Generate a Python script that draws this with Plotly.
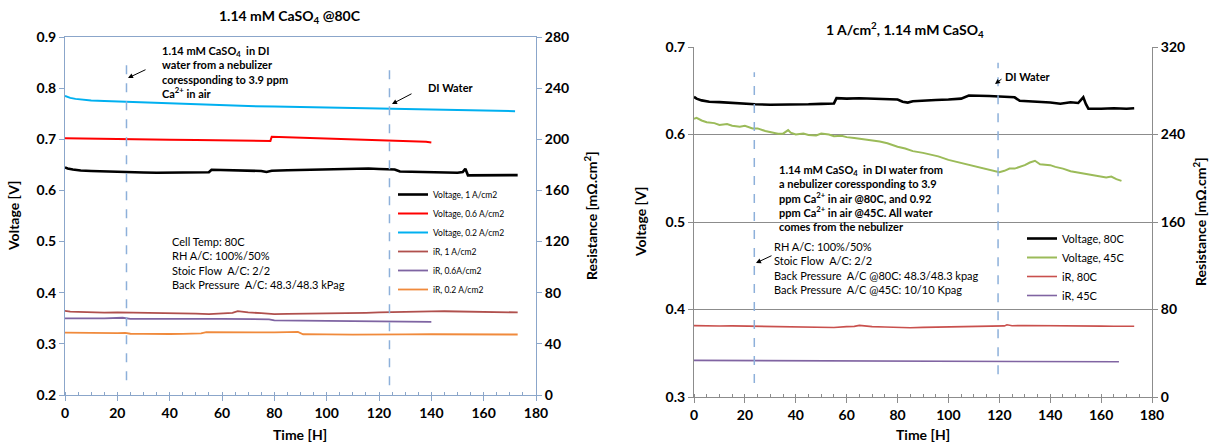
import plotly.graph_objects as go

# ---------------- DATA : left chart (1.14 mM CaSO4 @80C) ----------------
t_v1 = [0, 1, 3, 6, 10, 15, 20, 25, 30, 35, 40, 45, 50, 55, 56, 60, 65, 70, 75, 77, 79, 85, 90, 95, 100,
        105, 108, 112, 116, 120, 124, 126, 128, 132, 136, 140, 144, 147, 150, 152, 153, 154, 156, 160, 165, 170, 173]
v_v1 = [0.645, 0.643, 0.641, 0.639, 0.638, 0.637, 0.636, 0.635, 0.635, 0.6345, 0.6345, 0.635, 0.635, 0.6355, 0.6405,
        0.640, 0.6405, 0.640, 0.638, 0.636, 0.6385, 0.6395, 0.640, 0.6405, 0.641, 0.642, 0.643, 0.6425, 0.643, 0.642,
        0.642, 0.641, 0.637, 0.6365, 0.636, 0.636, 0.635, 0.6355, 0.6345, 0.636, 0.6425, 0.6295, 0.6295, 0.630,
        0.6295, 0.630, 0.630]

t_v06 = [0, 10, 20, 30, 40, 50, 60, 70, 77, 78.5, 79, 85, 90, 100, 110, 120, 124, 130, 135, 138, 140]
v_v06 = [0.702, 0.701, 0.700, 0.700, 0.699, 0.6985, 0.698, 0.697, 0.6965, 0.6968, 0.705, 0.704, 0.703, 0.7015,
         0.700, 0.698, 0.697, 0.6965, 0.6955, 0.695, 0.6935]

t_v02 = [0, 1, 2, 4, 7, 10, 15, 20, 24, 30, 40, 50, 60, 70, 80, 90, 100, 110, 120, 124, 130, 140, 150, 160, 172]
v_v02 = [0.785, 0.783, 0.781, 0.779, 0.777, 0.776, 0.775, 0.774, 0.773, 0.772, 0.770, 0.768, 0.766, 0.765, 0.764,
         0.763, 0.762, 0.761, 0.760, 0.760, 0.759, 0.758, 0.757, 0.756, 0.755]

t_ir1 = [0, 2, 5, 10, 15, 20, 25, 30, 35, 40, 45, 50, 55, 60, 64, 66, 70, 75, 80, 85, 90, 95, 100, 105, 110,
         115, 120, 125, 130, 135, 140, 145, 150, 155, 160, 165, 170, 173]
r_ir1 = [65.8, 65.2, 65.0, 64.6, 64.4, 64.6, 64.5, 64.3, 64.0, 63.9, 63.8, 63.6, 63.3, 63.9, 64.2, 65.6, 64.6, 64.0,
         63.2, 63.5, 63.6, 63.5, 63.8, 63.9, 64.0, 64.3, 64.6, 64.9, 65.2, 65.3, 65.4, 65.5, 65.3, 65.0, 64.8, 64.9,
         64.7, 64.6]

t_ir06 = [0, 5, 10, 15, 20, 22, 25, 30, 40, 50, 60, 70, 75, 78, 80, 85, 90, 95, 100, 105, 110, 115, 118, 120,
          125, 130, 135, 140]
r_ir06 = [60.0, 59.8, 59.9, 60.0, 60.2, 60.4, 59.6, 59.5, 59.4, 59.6, 59.5, 59.4, 59.3, 59.2, 58.4, 58.3, 58.2,
          58.3, 58.0, 58.1, 58.0, 57.9, 57.3, 57.3, 57.5, 57.4, 57.3, 57.2]

t_ir02 = [0, 5, 10, 15, 20, 23, 25, 30, 35, 40, 45, 50, 52, 54, 60, 65, 70, 75, 80, 85, 89, 91, 95, 100, 110,
          120, 130, 140, 150, 160, 165, 170, 173]
r_ir02 = [48.8, 48.6, 48.5, 48.6, 48.4, 48.6, 47.9, 47.8, 47.6, 47.7, 47.8, 48.0, 48.2, 49.1, 49.0, 49.2, 49.0,
          49.1, 49.0, 49.2, 49.3, 47.5, 47.3, 47.4, 47.2, 47.5, 47.4, 47.5, 47.3, 47.2, 47.4, 47.3, 47.3]

left_events = [23.5, 124]          # switch times (h)
left_event_span = [(0.229, 0.845), (0.219, 0.839)]

# ---------------- DATA : right chart (1 A/cm2, 1.14 mM CaSO4) ----------------
t_v80 = [0, 1, 3, 6, 10, 15, 20, 24, 30, 35, 40, 45, 50, 55, 56, 60, 65, 70, 75, 80, 82, 84, 86, 90, 95, 100,
         105, 108, 112, 116, 120, 124, 126, 128, 132, 136, 140, 144, 148, 151, 152.5, 153, 154, 155, 160, 165,
         170, 173]
v_v80 = [0.643, 0.641, 0.639, 0.6375, 0.637, 0.636, 0.635, 0.6345, 0.634, 0.634, 0.6342, 0.6345, 0.635, 0.6355,
         0.6415, 0.641, 0.6415, 0.641, 0.6405, 0.640, 0.6375, 0.6365, 0.638, 0.639, 0.6395, 0.640, 0.641, 0.6445,
         0.6445, 0.644, 0.6435, 0.643, 0.6425, 0.6385, 0.638, 0.6375, 0.6365, 0.6352, 0.6368, 0.636, 0.641,
         0.6425, 0.635, 0.6295, 0.6295, 0.630, 0.6295, 0.630]

t_v45 = [0, 1, 3, 5, 8, 10, 13, 15, 18, 20, 23, 25, 28, 30, 33, 35, 37, 38, 40, 43, 45, 48, 50, 53, 55, 58,
         60, 63, 66, 70, 73, 76, 80, 83, 86, 90, 93, 96, 100, 103, 106, 110, 113, 116, 118, 120, 122, 124, 126,
         128, 130, 132, 134, 136, 138, 140, 142, 145, 148, 150, 153, 156, 158, 160, 162, 164, 166, 168]
v_v45 = [0.618, 0.619, 0.616, 0.614, 0.613, 0.611, 0.612, 0.610, 0.609, 0.610, 0.607, 0.607, 0.604, 0.603,
         0.601, 0.601, 0.605, 0.602, 0.600, 0.601, 0.5995, 0.599, 0.601, 0.600, 0.598, 0.5985, 0.597, 0.596,
         0.595, 0.593, 0.592, 0.590, 0.586, 0.584, 0.581, 0.579, 0.577, 0.575, 0.571, 0.569, 0.567, 0.564,
         0.562, 0.560, 0.559, 0.557, 0.5585, 0.561, 0.561, 0.563, 0.565, 0.568, 0.570, 0.566, 0.5655, 0.565,
         0.563, 0.561, 0.558, 0.557, 0.556, 0.554, 0.553, 0.552, 0.551, 0.552, 0.549, 0.547]

t_ir80 = [0, 3, 5, 10, 15, 20, 25, 30, 35, 40, 45, 50, 55, 60, 63, 65, 68, 70, 75, 80, 85, 90, 95, 100, 105,
          110, 115, 120, 122, 123, 125, 130, 135, 140, 145, 150, 155, 160, 165, 170, 173]
r_ir80 = [65.3, 65.0, 65.3, 64.9, 65.0, 64.8, 65.0, 64.7, 64.3, 64.2, 64.0, 63.8, 63.6, 64.3, 64.6, 65.5, 64.6,
          64.3, 64.0, 63.5, 63.3, 63.7, 63.9, 64.1, 64.2, 64.4, 64.6, 64.8, 65.0, 66.0, 65.2, 65.4, 65.4, 65.3,
          65.0, 65.2, 64.9, 64.8, 64.7, 64.6, 64.7]

t_ir45 = [0, 10, 20, 40, 60, 80, 100, 110, 111, 120, 140, 160, 167]
r_ir45 = [33.5, 33.4, 33.2, 33.0, 32.9, 32.8, 32.6, 32.6, 32.3, 32.4, 32.3, 32.2, 32.2]

right_events = [23.7, 119.5]
right_event_span = [(0.316, 0.671), (0.326, 0.682)]

x_ticks = [0, 20, 40, 60, 80, 100, 120, 140, 160, 180]

for a, b in [(t_v1, v_v1), (t_v06, v_v06), (t_v02, v_v02), (t_ir1, r_ir1), (t_ir06, r_ir06), (t_ir02, r_ir02),
             (t_v80, v_v80), (t_v45, v_v45), (t_ir80, r_ir80), (t_ir45, r_ir45)]:
    assert len(a) == len(b), (len(a), len(b))

# ---------------- FIGURE ----------------
W, H = 1209, 443
FONT = "Lato"
BLUE_AX = "#8BA6CA"
GRAY_AX = "#8C8C8C"
EVT = "#8DB0DA"


def px(x):
    return x / W


def py(y):
    return 1 - y / H


fig = go.Figure()

# left chart traces
fig.add_trace(go.Scatter(x=t_v1, y=v_v1, name="Voltage, 1 A/cm2", mode="lines",
                         line=dict(color="#000000", width=2.6), xaxis="x", yaxis="y", legend="legend"))
fig.add_trace(go.Scatter(x=t_v06, y=v_v06, name="Voltage, 0.6 A/cm2", mode="lines",
                         line=dict(color="#FF0000", width=2), xaxis="x", yaxis="y", legend="legend"))
fig.add_trace(go.Scatter(x=t_v02, y=v_v02, name="Voltage, 0.2 A/cm2", mode="lines",
                         line=dict(color="#00B0F0", width=2), xaxis="x", yaxis="y", legend="legend"))
fig.add_trace(go.Scatter(x=t_ir1, y=r_ir1, name="iR, 1 A/cm2", mode="lines",
                         line=dict(color="#B0504D", width=1.8), xaxis="x", yaxis="y2", legend="legend"))
fig.add_trace(go.Scatter(x=t_ir06, y=r_ir06, name="iR, 0.6A/cm2", mode="lines",
                         line=dict(color="#7E64A2", width=1.8), xaxis="x", yaxis="y2", legend="legend"))
fig.add_trace(go.Scatter(x=t_ir02, y=r_ir02, name="iR, 0.2 A/cm2", mode="lines",
                         line=dict(color="#F08A3C", width=1.8), xaxis="x", yaxis="y2", legend="legend"))

# right chart traces
fig.add_trace(go.Scatter(x=t_v80, y=v_v80, name="Voltage, 80C", mode="lines",
                         line=dict(color="#000000", width=2.6), xaxis="x3", yaxis="y3", legend="legend2"))
fig.add_trace(go.Scatter(x=t_v45, y=v_v45, name="Voltage, 45C", mode="lines",
                         line=dict(color="#9BBB59", width=2), xaxis="x3", yaxis="y3", legend="legend2"))
fig.add_trace(go.Scatter(x=t_ir80, y=r_ir80, name="iR, 80C", mode="lines",
                         line=dict(color="#C9504D", width=1.6), xaxis="x3", yaxis="y4", legend="legend2"))
fig.add_trace(go.Scatter(x=t_ir45, y=r_ir45, name="iR, 45C", mode="lines",
                         line=dict(color="#8064A2", width=1.6), xaxis="x3", yaxis="y4", legend="legend2"))

# event lines
shapes = []
for xe, (y0, y1) in zip(left_events, left_event_span):
    shapes.append(dict(type="line", xref="x", yref="y", x0=xe, x1=xe, y0=y0, y1=y1,
                       line=dict(color=EVT, width=1.5, dash="dash")))
for xe, (y0, y1) in zip(right_events, right_event_span):
    shapes.append(dict(type="line", xref="x3", yref="y3", x0=xe, x1=xe, y0=y0, y1=y1,
                       line=dict(color=EVT, width=1.5, dash="dash")))

tick_font = dict(family=FONT, size=14, color="#000000", weight="bold")

common_x = dict(range=[0, 180], tickvals=x_ticks, ticks="outside", ticklen=5, showgrid=False, zeroline=False,
                showline=True, linewidth=1, tickfont=tick_font, automargin=False,
                minor=dict(dtick=5, ticks="inside", ticklen=3, showgrid=False))

fig.update_layout(
    width=W, height=H, margin=dict(l=0, r=0, t=0, b=0, autoexpand=False),
    paper_bgcolor="white", plot_bgcolor="white",
    showlegend=True,
    xaxis=dict(domain=[px(65), px(536)], anchor="y", mirror=True, linecolor=BLUE_AX, tickcolor=BLUE_AX,
               **common_x),
    yaxis=dict(domain=[py(395), py(37)], anchor="x", range=[0.2, 0.9], dtick=0.1, tickformat=".1f",
               ticks="outside", ticklen=5, tickcolor=BLUE_AX, showline=True, linecolor=BLUE_AX, mirror=True,
               showgrid=False, zeroline=False, tickfont=tick_font, automargin=False),
    yaxis2=dict(overlaying="y", anchor="x", side="right", range=[0, 280], dtick=40, ticks="outside", ticklen=5,
                tickcolor=BLUE_AX, showline=True, linecolor=BLUE_AX, showgrid=False, zeroline=False,
                tickfont=tick_font, automargin=False),
    xaxis3=dict(domain=[px(694), px(1152)], anchor="y3", linecolor=GRAY_AX, tickcolor=GRAY_AX, **common_x),
    yaxis3=dict(domain=[py(397), py(47)], anchor="x3", range=[0.3, 0.7], dtick=0.1, tickformat=".1f",
                ticks="outside", ticklen=5, tickcolor=GRAY_AX, showline=True, linecolor=GRAY_AX,
                showgrid=True, gridcolor=GRAY_AX, gridwidth=1, zeroline=False, tickfont=tick_font,
                automargin=False),
    yaxis4=dict(overlaying="y3", anchor="x3", side="right", range=[0, 320], dtick=80, ticks="outside", ticklen=5,
                tickcolor=GRAY_AX, showline=True, linecolor=GRAY_AX, showgrid=False, zeroline=False,
                tickfont=tick_font, automargin=False),
    legend=dict(x=px(393), y=py(180), xanchor="left", yanchor="top", bgcolor="rgba(0,0,0,0)",
                font=dict(family=FONT, size=8.5, color="#000000"), itemwidth=30, tracegroupgap=0),
    legend2=dict(x=px(1022), y=py(224), xanchor="left", yanchor="top", bgcolor="rgba(0,0,0,0)",
                 font=dict(family=FONT, size=11, color="#000000"), itemwidth=30, tracegroupgap=0),
    shapes=shapes,
)

ann = []


def text(x, y, s, size=12, bold=False, xanchor="center", yanchor="middle", angle=0, align="left"):
    ann.append(dict(x=px(x), y=py(y), xref="paper", yref="paper", text=s, showarrow=False,
                    xanchor=xanchor, yanchor=yanchor, textangle=angle, align=align,
                    font=dict(family=FONT, size=size, color="#000000", weight="bold" if bold else "normal")))


def arrow(xh, yh, xt, yt):
    ann.append(dict(x=px(xh), y=py(yh), xref="paper", yref="paper", ax=xt - xh, ay=yt - yh, axref="pixel",
                    ayref="pixel", text="", showarrow=True, arrowhead=2, arrowsize=1, arrowwidth=1,
                    arrowcolor="#000000"))


# titles
text(290, 17, "1.14 mM CaSO<sub>4</sub> @80C", size=14, bold=True)
text(905, 30, "1 A/cm<sup>2</sup>, 1.14 mM CaSO<sub>4</sub>", size=14, bold=True)
# axis titles
text(300, 434, "Time [H]", size=14, bold=True)
text(923, 434, "Time [H]", size=14, bold=True)
text(13, 216, "Voltage [V]", size=14, bold=True, angle=-90)
text(640, 222, "Voltage [V]", size=14, bold=True, angle=-90)
text(590, 216, "Resistance [mΩ.cm<sup>2</sup>]", size=14, bold=True, angle=-90)
text(1199, 222, "Resistance [mΩ.cm<sup>2</sup>]", size=14, bold=True, angle=-90)

# left chart notes
text(160, 42, "1.14 mM CaSO<sub>4</sub>  in DI<br>water from a nebulizer<br>coressponding to 3.9 ppm<br>"
              "Ca<sup>2+</sup> in air", size=11, bold=True, xanchor="left", yanchor="top")
arrow(128, 78, 147, 69)
text(426, 88, "DI Water", size=11, bold=True, xanchor="left")
arrow(392, 104, 413, 93)
text(170, 233, "Cell Temp: 80C<br>RH A/C: 100%/50%<br>Stoic Flow  A/C: 2/2<br>"
               "Back Pressure  A/C: 48.3/48.3 kPag", size=11, xanchor="left", yanchor="top")

# right chart notes
text(1003, 76, "DI Water", size=11, bold=True, xanchor="left")
arrow(995, 84, 1003, 78)
text(777, 161, "1.14 mM CaSO<sub>4</sub>  in DI water from<br>a nebulizer coressponding to 3.9<br>"
               "ppm Ca<sup>2+</sup> in air @80C, and 0.92<br>ppm Ca<sup>2+</sup> in air @45C. All water<br>"
               "comes from the nebulizer", size=11, bold=True, xanchor="left", yanchor="top")
arrow(756, 263, 773, 255)
text(772, 238, "RH A/C: 100%/50%<br>Stoic Flow  A/C: 2/2<br>Back Pressure  A/C @80C: 48.3/48.3 kpag<br>"
               "Back Pressure  A/C @45C: 10/10 Kpag", size=11, xanchor="left", yanchor="top")

fig.update_layout(annotations=ann)
fig.write_html("out.html", config={"displayModeBar": False},
               post_script="document.body.style.margin='0px';document.body.style.overflow='hidden';")
